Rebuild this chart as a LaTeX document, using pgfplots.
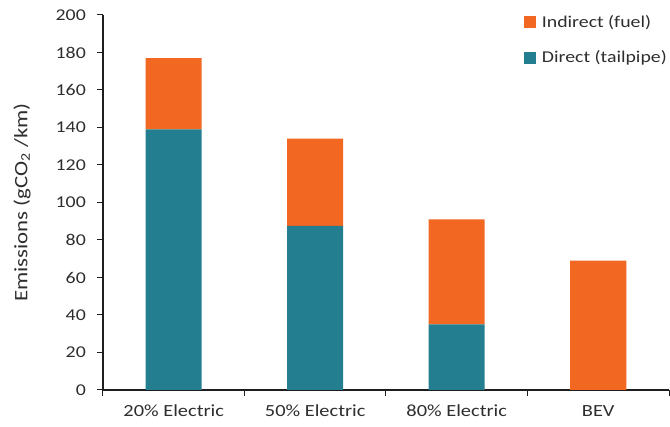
\documentclass[border=0pt]{standalone}
\usepackage{pgfplots}
\pgfplotsset{compat=1.18}
\usepackage{fontspec}
\setmainfont[FakeStretch=1.2]{Carlito}
\definecolor{direct}{HTML}{237E8F}
\definecolor{indirect}{HTML}{F26722}
\definecolor{axisgray}{HTML}{1E1E1E}
\definecolor{textgray}{HTML}{2E2E2E}

\begin{document}
\begin{tikzpicture}
\begin{axis}[
  scale only axis, width=566pt, height=375pt,
  ybar stacked, bar width=56pt,
  xmin=-0.5, xmax=3.5, ymin=0, ymax=200,
  ytick={0,20,...,200},
  xtick={0,1,2,3},
  xticklabels={20\% Electric, 50\% Electric, 80\% Electric, BEV},
  minor xtick={-0.5,0.5,1.5,2.5,3.5},
  major x tick style={draw=none},
  axis x line*=bottom, axis y line*=left,
  axis line style={-, draw=axisgray, line width=1.3pt},
  tick style={draw=axisgray, line width=1pt},
  tick align=outside,
  major tick length=6pt, minor tick length=6pt,
  ytick pos=left, xtick pos=bottom,
  /pgf/number format/assume math mode=true,
  yticklabel style={font=\fontsize{16.5}{19}\selectfont, text=textgray,
    inner sep=0pt, xshift=-11pt},
  xticklabel style={font=\fontsize{17}{20}\selectfont, text=textgray,
    inner sep=0pt, yshift=-9pt},
  ylabel={Emissions (gCO\textsubscript{2} /km)},
  ylabel style={font=\fontsize{19}{22}\selectfont, text=textgray,
    at={(axis description cs:0,0.5)}, anchor=center, yshift=81pt},
  reverse legend,
  legend style={at={(rel axis cs:1,1)}, anchor=north east, yshift=2pt,
    draw=none, fill=none, inner sep=0pt, row sep=18pt,
    font=\fontsize{16.5}{19}\selectfont, text=textgray,
    /tikz/every odd column/.append style={column sep=4pt},
    /tikz/every even column/.append style={column sep=0pt}},
  legend cell align=left,
  legend image code/.code={\fill[#1] (0pt,-6pt) rectangle (12pt,6pt);},
]
\addplot[fill=direct, draw=none] coordinates {(0,139) (1,87.5) (2,35) (3,0)};
\addplot[fill=indirect, draw=none] coordinates {(0,38) (1,46.5) (2,56) (3,69)};
\legend{Direct (tailpipe), Indirect (fuel)}
\end{axis}
\path[use as bounding box] (-103pt,-37pt) rectangle (567pt,390pt);
\end{tikzpicture}
\end{document}
